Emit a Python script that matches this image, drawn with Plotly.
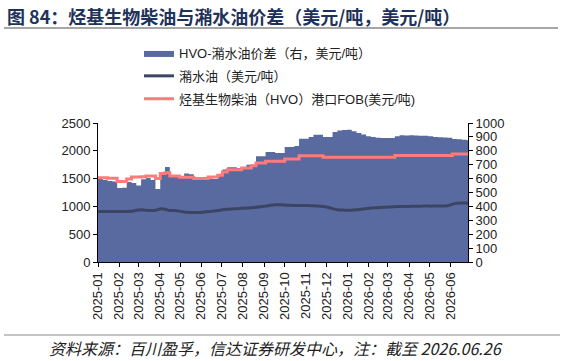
import pandas as pd
import plotly.graph_objects as go

# Weekly observation dates (2025-01-01 .. 2026-06-24) plus final date 2026-06-26
dates = list(pd.date_range("2025-01-01", "2026-06-24", freq="7D").strftime("%Y-%m-%d")) + ["2026-06-26"]

# HVO - swill oil spread (right axis, USD/t)
spread = [600, 590, 582, 580, 533, 535, 575, 568, 550, 595,
          605, 590, 526, 641, 684, 612, 612, 612, 636, 632,
          605, 605, 605, 600, 597, 621, 665, 681, 681, 677,
          677, 700, 700, 760, 760, 792, 792, 784, 784, 828,
          828, 835, 887, 887, 900, 916, 916, 899, 899, 935,
          946, 950, 952, 940, 928, 918, 904, 900, 893, 892,
          892, 892, 905, 911, 910, 912, 910, 908, 909, 905,
          900, 897, 895, 893, 885, 883, 880, 875, 875]

# Swill oil price (left axis, USD/t)
swill = [910, 908, 910, 908, 910, 908, 910, 912, 930, 940,
         930, 925, 930, 955, 950, 925, 925, 915, 900, 892,
         892, 892, 895, 905, 915, 925, 940, 950, 955, 958,
         965, 970, 975, 985, 995, 1005, 1020, 1030, 1030, 1025,
         1020, 1015, 1015, 1015, 1018, 1010, 1005, 1000, 985, 960,
         940, 935, 930, 932, 940, 950, 960, 970, 975, 980,
         985, 990, 995, 998, 1000, 1000, 1002, 1002, 1005, 1005,
         1005, 1008, 1008, 1010, 1040, 1055, 1060, 1060, 1058]

# HVO port FOB price (left axis, USD/t)
hvo = [1515, 1515, 1505, 1505, 1450, 1450, 1495, 1530, 1530, 1535,
       1545, 1545, 1500, 1590, 1605, 1545, 1545, 1525, 1525, 1525,
       1500, 1500, 1500, 1530, 1530, 1560, 1620, 1660, 1660, 1660,
       1690, 1690, 1732, 1780, 1780, 1810, 1810, 1810, 1810, 1852,
       1852, 1852, 1912, 1912, 1912, 1912, 1912, 1882, 1882, 1882,
       1882, 1882, 1882, 1882, 1882, 1882, 1882, 1882, 1882, 1882,
       1882, 1882, 1915, 1915, 1915, 1915, 1915, 1915, 1915, 1915,
       1915, 1915, 1915, 1915, 1942, 1942, 1942, 1942, 1942]

month_ticks = list(pd.date_range("2025-01-01", "2026-06-01", freq="MS").strftime("%Y-%m-%d"))
month_labels = list(pd.date_range("2025-01-01", "2026-06-01", freq="MS").strftime("%Y-%m"))

title_text = "图 84：烃基生物柴油与潲水油价差（美元/吨，美元/吨）"
source_text = "资料来源：百川盈孚，信达证券研发中心，注：截至 2026.06.26"
names = ["HVO-潲水油价差（右，美元/吨）", "潲水油（美元/吨）", "烃基生物柴油（HVO）港口FOB(美元/吨)"]

W, H = 566, 361
L, R, T, B = 98, 98, 123, 99
PW, PH = W - L - R, H - T - B

def px(xp):
    return (xp - L) / PW

def py(yp):
    return (H - B - yp) / PH

FONT = "Liberation Sans, Arial, Noto Sans CJK SC, sans-serif"
CJK = "Noto Sans CJK SC, Liberation Sans, sans-serif"

fig = go.Figure()
fig.add_trace(go.Scatter(
    x=dates, y=spread, name=names[0], yaxis="y", mode="lines",
    line=dict(width=0, shape="hv", color="rgb(88,106,160)"),
    fill="tozeroy", fillcolor="rgb(88,106,160)", legendgroup="a"))
fig.add_trace(go.Scatter(
    x=dates, y=swill, name=names[1], yaxis="y2", mode="lines",
    line=dict(width=3, color="rgb(60,68,100)", shape="spline", smoothing=0.6),
    legendgroup="b"))
fig.add_trace(go.Scatter(
    x=dates, y=hvo, name=names[2], yaxis="y2", mode="lines",
    line=dict(width=3, color="rgb(255,122,122)", shape="hv"),
    legendgroup="c"))

axis_common = dict(showline=True, linecolor="#000", linewidth=1, ticks="outside",
                   ticklen=4, tickcolor="#000", showgrid=False, zeroline=False,
                   tickfont=dict(size=13, color="#222", family=FONT))

fig.update_layout(
    width=W, height=H, margin=dict(l=L, r=R, t=T, b=B),
    paper_bgcolor="white", plot_bgcolor="white",
    font=dict(family=FONT, color="#222"),
    xaxis=dict(type="date", range=["2025-01-01", "2026-06-26"], tickvals=month_ticks,
               ticktext=month_labels, tickangle=-90, **axis_common),
    yaxis=dict(range=[0, 1000], dtick=100, side="right", **axis_common),
    yaxis2=dict(range=[0, 2500], dtick=500, side="left", overlaying="y", **axis_common),
    showlegend=True,
    legend=dict(x=px(139), y=py(38), xanchor="left", yanchor="top",
                orientation="v", traceorder="grouped", tracegroupgap=3,
                itemwidth=30, font=dict(size=13, color="#222", family=FONT),
                bgcolor="rgba(0,0,0,0)"),
)

fig.add_annotation(x=px(5), y=py(16), xref="paper", yref="paper", text="<b>" + title_text + "</b>",
                   showarrow=False, xanchor="left", yanchor="middle",
                   font=dict(size=18, color="rgb(31,50,90)", family=CJK))
fig.add_shape(type="line", xref="paper", yref="paper", x0=px(4), x1=px(558), y0=py(28), y1=py(28),
              line=dict(color="#888", width=1.5))
fig.add_shape(type="line", xref="paper", yref="paper", x0=px(4), x1=px(560), y0=py(335), y1=py(335),
              line=dict(color="#888", width=1))
fig.add_annotation(x=px(47), y=py(348), xref="paper", yref="paper",
                   text="<i>" + source_text + "</i>",
                   showarrow=False, xanchor="left", yanchor="middle",
                   font=dict(size=16, color="#222", family=CJK))

fig.write_html("out.html")
